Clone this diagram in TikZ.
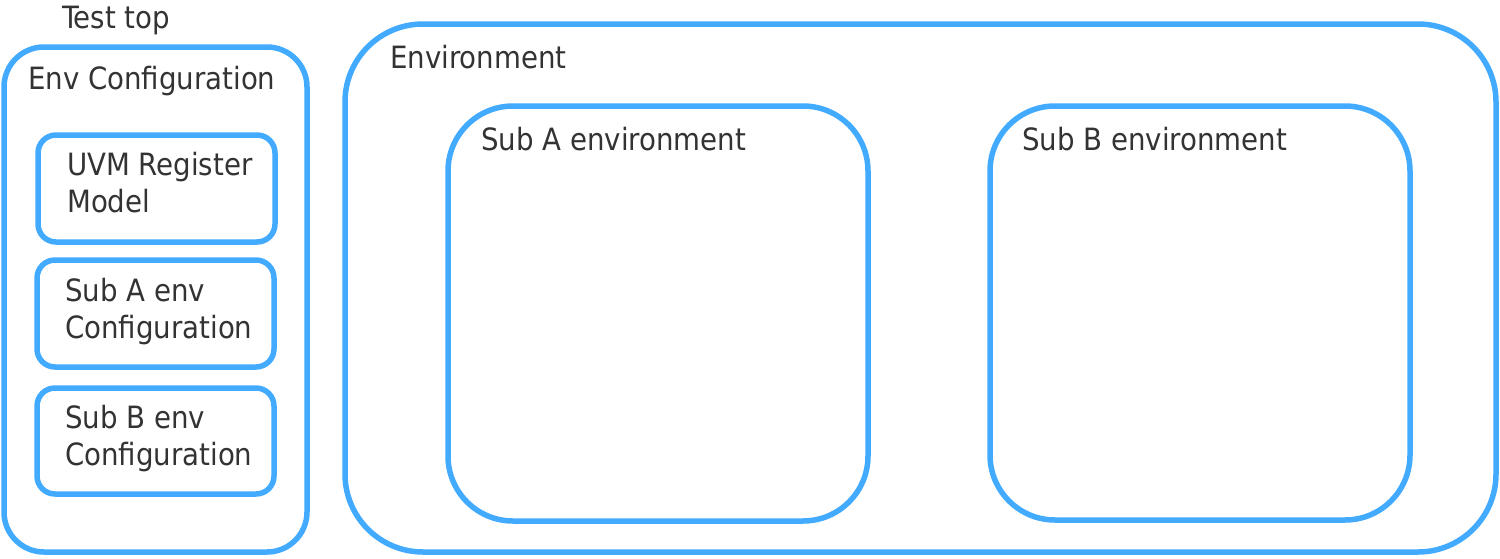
\documentclass[tikz,border=0pt]{standalone}
\usepackage{fontspec}
\setmainfont{DejaVu Sans Condensed}
\usepackage{tikz}
\usetikzlibrary{positioning}

\definecolor{boxblue}{RGB}{66,170,255}
\definecolor{txtgray}{RGB}{51,51,51}

\begin{document}
\begin{tikzpicture}[x=1pt,y=-1pt,
  box/.style={draw=boxblue,line width=5.5pt,outer sep=0pt,inner sep=0pt,anchor=north west},
  lbl/.style={anchor=base west,inner sep=0pt,text=txtgray,align=left,
    font=\fontsize{30.7}{36.5}\selectfont}]

  \useasboundingbox (0,0) rectangle (1500,558);

  % left column: configuration objects
  \node[box,rounded corners=40pt,minimum width=303pt,minimum height=505pt] (envcfg) at (4,47) {};
  \node[box,rounded corners=18pt,minimum width=237pt,minimum height=107pt] (regmodel) at (38,135) {};
  \node[box,rounded corners=18pt,minimum width=237pt,minimum height=107pt] (subacfg) at (37,260) {};
  \node[box,rounded corners=18pt,minimum width=237pt,minimum height=106pt] (subbcfg) at (37,388) {};

  % right side: the environment and its two sub environments
  \node[box,rounded corners=78pt,minimum width=1151pt,minimum height=528pt] (env) at (345,24) {};
  \node[box,rounded corners=65pt,minimum width=420pt,minimum height=415pt] (subaenv) at (448,106) {};
  \node[box,rounded corners=65pt,minimum width=420pt,minimum height=414pt] (subbenv) at (990,106) {};

  % labels (multi-line ones sit on their last baseline)
  \node[lbl] (testtop) at (62,28) {Test top};
  \node[lbl] (envcfgtxt) at (28,89) {Env Configuration};
  \node[lbl] (regmodeltxt) at (67,212) {UVM Register\\Model};
  \node[lbl] (subacfgtxt) at (65,338) {Sub A env\\Configuration};
  \node[lbl] (subbcfgtxt) at (65,465) {Sub B env\\Configuration};
  \node[lbl] (envtxt) at (390,68) {Environment};
  \node[lbl] (subaenvtxt) at (481,150) {Sub A environment};
  \node[lbl] (subbenvtxt) at (1022,150) {Sub B environment};
\end{tikzpicture}
\end{document}
